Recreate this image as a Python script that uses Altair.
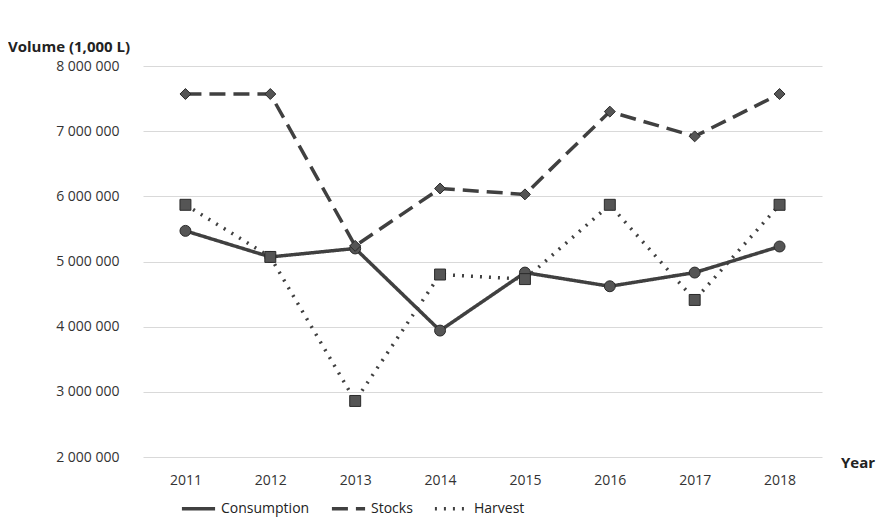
import pandas as pd
import altair as alt

# ── data ─────────────────────────────────────────────────────────────────────

YEARS = ["2011", "2012", "2013", "2014", "2015", "2016", "2017", "2018"]
CONSUMPTION = [5470000, 5070000, 5200000, 3940000, 4830000, 4620000, 4830000, 5230000]
STOCKS      = [7570000, 7570000, 5240000, 6120000, 6030000, 7300000, 6920000, 7570000]
HARVEST     = [5870000, 5070000, 2860000, 4800000, 4730000, 5870000, 4410000, 5870000]

SERIES = ["Consumption", "Stocks", "Harvest"]
SHAPES = ["circle", "diamond", "square"]
INK = "#404040"
FONT = "Open Sans"

rows = []
for name, vals in zip(SERIES, [CONSUMPTION, STOCKS, HARVEST]):
    for y, v in zip(YEARS, vals):
        rows.append({"year": y, "volume": v, "series": name})
df = pd.DataFrame(rows)

x = alt.X("year:N", title=None, sort=YEARS,
          scale=alt.Scale(paddingOuter=0.5),
          axis=alt.Axis(labelAngle=0, ticks=False, domain=False, grid=False,
                        labelFontSize=14, labelColor="#333", labelPadding=16))
y = alt.Y("volume:Q", title=None,
          scale=alt.Scale(domain=[2000000, 8000000]),
          axis=alt.Axis(values=[2e6, 3e6, 4e6, 5e6, 6e6, 7e6, 8e6], ticks=False,
                        domain=False, gridColor="#d9d9d9", labelFontSize=14,
                        labelColor="#333", labelPadding=24,
                        labelExpr="replace(format(datum.value, ','), /,/g, ' ')"))

lines = alt.Chart(df).mark_line(strokeWidth=3.5, color=INK).encode(
    x=x, y=y,
    strokeDash=alt.StrokeDash("series:N", sort=SERIES,
                              scale=alt.Scale(domain=SERIES,
                                              range=[[1, 0], [16, 8], [2, 7]]),
                              legend=alt.Legend(title=None, orient="none",
                                                legendX=37, legendY=424,
                                                direction="horizontal",
                                                labelFontSize=14, symbolType="stroke",
                                                symbolSize=1100, symbolStrokeWidth=3.5,
                                                symbolStrokeColor=INK, labelColor="#222",
                                                columnPadding=14, padding=0)),
)

point_layers = [
    alt.Chart(df).transform_filter(alt.datum.series == name)
    .mark_point(shape=shape, filled=True, size=120, opacity=1, color="#555",
                stroke="#2a2a2a", strokeWidth=1)
    .encode(x=x, y=y)
    for name, shape in zip(SERIES, SHAPES)
]

ylabel = alt.Chart(pd.DataFrame({"t": ["Volume (1,000 L)"]})).mark_text(
    align="left", fontSize=15, fontWeight="bold", font=FONT, color="#222"
).encode(x=alt.value(-135), y=alt.value(-19), text="t:N")
xlabel = alt.Chart(pd.DataFrame({"t": ["Year"]})).mark_text(
    align="left", fontSize=15, fontWeight="bold", font=FONT, color="#222"
).encode(x=alt.value(698), y=alt.value(397), text="t:N")

chart = alt.layer(lines, *point_layers, ylabel, xlabel).properties(
    width=679, height=391,
    padding={"left": 135, "top": 58, "right": 58, "bottom": 66},
    autosize=alt.AutoSizeParams(type="none"),
).configure(font=FONT).configure_view(strokeWidth=0)

chart.save("out.html", embed_options={"renderer": "svg", "actions": False})
